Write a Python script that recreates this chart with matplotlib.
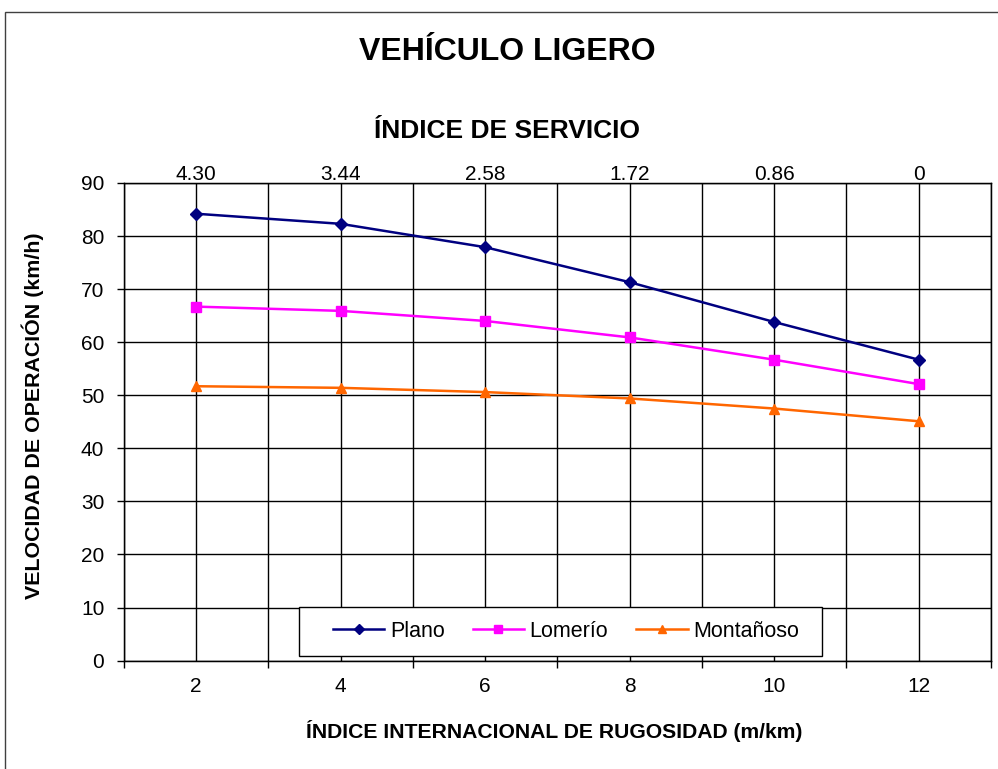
import matplotlib.pyplot as plt
import matplotlib.patches as patches

# IRI values (m/km) and the matching service index labels
iri = [2, 4, 6, 8, 10, 12]
service_labels = ["4.30", "3.44", "2.58", "1.72", "0.86", "0"]

# operating speed (km/h) per terrain
plano = [84.2, 82.3, 77.9, 71.3, 63.8, 56.7]
lomerio = [66.7, 65.9, 64.0, 60.9, 56.7, 52.1]
montanoso = [51.7, 51.4, 50.6, 49.4, 47.5, 45.1]

plt.rcParams['font.family'] = ['Liberation Sans', 'DejaVu Sans']

fig = plt.figure(figsize=(9.98, 7.69), dpi=100)
ax = fig.add_axes([0.124, 0.1409, 0.869, 0.6212])

ax.plot(iri, plano, color='#000080', marker='D', markersize=6.5, lw=1.8, label='Plano')
ax.plot(iri, lomerio, color='#FF00FF', marker='s', markersize=7.2, lw=1.8, label='Lomerío')
ax.plot(iri, montanoso, color='#FF6600', marker='^', markersize=7.5, lw=1.8, label='Montañoso')

ax.set_xlim(1, 13)
ax.set_ylim(0, 90)
ax.set_yticks(range(0, 91, 10))
ax.set_xticks(range(1, 14, 2))
ax.set_xticklabels([])
ax.set_xticks(iri, minor=True)
ax.set_xticklabels([str(v) for v in iri], minor=True)
ax.tick_params(axis='x', which='major', direction='out', length=5, width=1)
ax.tick_params(axis='x', which='minor', length=0, pad=12, labelsize=15)
ax.tick_params(axis='y', direction='out', length=5, width=1, labelsize=15, pad=9)
ax.grid(True, which='both', color='black', lw=1)
ax.set_axisbelow(True)
for s in ax.spines.values():
    s.set_linewidth(1)
    s.set_color('black')

top = ax.twiny()
top.set_xlim(ax.get_xlim())
top.set_xticks(iri)
top.set_xticklabels(service_labels)
top.tick_params(axis='x', length=0, pad=-1, labelsize=15)

fig.text(0.508, 1 - 131 / 769, 'ÍNDICE DE SERVICIO', ha='center', va='center',
         fontsize=19, fontweight='bold')
fig.text(0.508, 1 - 52 / 769, 'VEHÍCULO LIGERO', ha='center', va='center',
         fontsize=23, fontweight='bold')
fig.text(0.555, 1 - 731 / 769, 'ÍNDICE INTERNACIONAL DE RUGOSIDAD (m/km)',
         ha='center', va='center', fontsize=15.2, fontweight='bold')
fig.text(33 / 998, 1 - 416 / 769, 'VELOCIDAD DE OPERACIÓN (km/h)', rotation=90,
         ha='center', va='center', fontsize=15.4, fontweight='bold')

# legend box drawn separately so its padding matches the original
ax.add_patch(patches.Rectangle((0.2021, 0.0098), 0.603, 0.1026, transform=ax.transAxes,
                               facecolor='white', edgecolor='black', lw=1, zorder=4))
leg = ax.legend(loc='center', bbox_to_anchor=(0.5099, 0.0611), ncol=3,
                fontsize=15.5, frameon=False, handlelength=2.4, handletextpad=0.25,
                columnspacing=1.3, borderpad=0.6, markerscale=0.75)
leg.set_zorder(5)

fig.patches.append(patches.Rectangle((5 / 998, -0.1), 1.1, 1.1 - 12 / 769,
                                     transform=fig.transFigure, fill=False,
                                     edgecolor='#404040', lw=1))

fig.savefig('out.png', dpi=100)
